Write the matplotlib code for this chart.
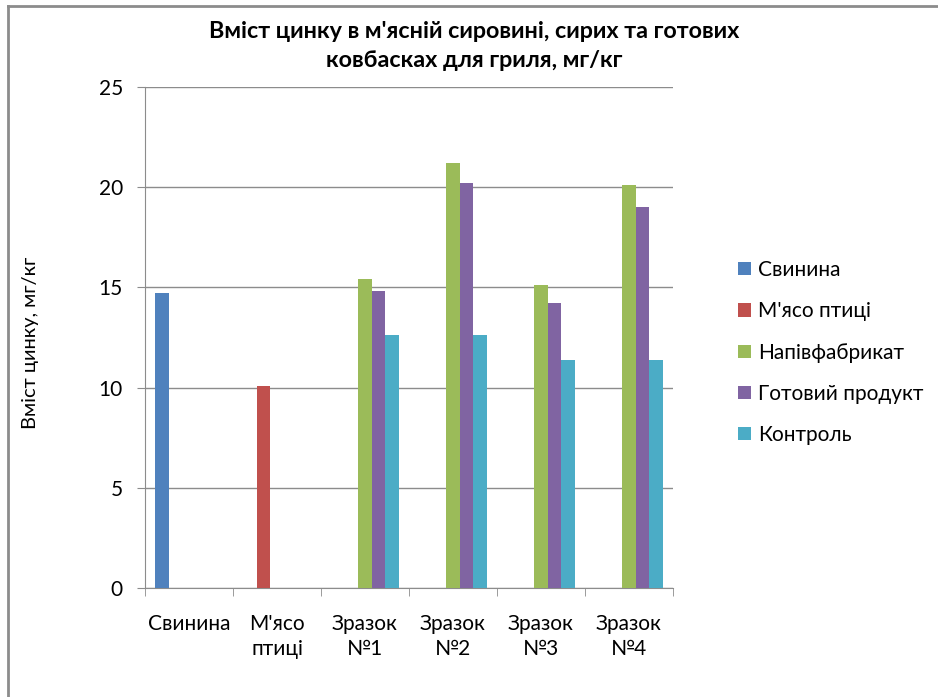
import numpy as np
import matplotlib
matplotlib.use("Agg")
import matplotlib.pyplot as plt
from matplotlib.lines import Line2D

plt.rcParams["font.family"] = ["Lato", "DejaVu Sans"]

CATEGORIES = ["Свинина", "М'ясо\nптиці", "Зразок\n№1", "Зразок\n№2", "Зразок\n№3", "Зразок\n№4"]
SERIES = ["Свинина", "М'ясо птиці", "Напівфабрикат", "Готовий продукт", "Контроль"]
svynyna = [14.7, np.nan, np.nan, np.nan, np.nan, np.nan]
ptytsia = [np.nan, 10.1, np.nan, np.nan, np.nan, np.nan]
napivfabrykat = [np.nan, np.nan, 15.4, 21.2, 15.1, 20.1]
hotovyi = [np.nan, np.nan, 14.8, 20.2, 14.2, 19.0]
kontrol = [np.nan, np.nan, 12.6, 12.6, 11.4, 11.4]
COLORS = ["#4F81BD", "#C0504D", "#9BBB59", "#8064A2", "#4BACC6"]

fig = plt.figure(figsize=(9.38, 6.97), dpi=100)
ax = fig.add_axes([0.1546, 0.1564, 0.5629, 0.7188])

x = np.arange(len(CATEGORIES))
w = 1 / 6.5
for i, (vals, name) in enumerate(zip([svynyna, ptytsia, napivfabrykat, hotovyi, kontrol], SERIES)):
    ax.bar(x - 0.5 + w * (1.25 + i), vals, width=w, color=COLORS[i], label=name, zorder=3)

ax.set_xlim(-0.5, len(CATEGORIES) - 0.5)
ax.set_ylim(0, 25)
ax.set_yticks(range(0, 26, 5))
ax.grid(axis="y", color="#8c8c8c", linewidth=1, zorder=0)
for s in ("top", "right"):
    ax.spines[s].set_visible(False)
for s in ("left", "bottom"):
    ax.spines[s].set_color("#8c8c8c")
ax.tick_params(axis="y", colors="#8c8c8c", length=6, labelcolor="black", labelsize=15, pad=10)
ax.set_xticks(x)
ax.set_xticklabels(CATEGORIES, fontsize=15, linespacing=1.3)
ax.tick_params(axis="x", length=0, pad=19)
ax.set_xticks(np.arange(-0.5, len(CATEGORIES)), minor=True)
ax.tick_params(axis="x", which="minor", length=6, color="#8c8c8c")

ax.set_ylabel("Вміст цинку, мг/кг", fontsize=14.5)
ax.yaxis.set_label_coords(-0.2, 0.49)

fig.text(0.506, 0.97, "Вміст цинку в м'ясній сировині, сирих та готових\nковбасках для гриля, мг/кг",
         ha="center", va="top", fontsize=16.8, fontweight="bold", linespacing=1.5)

leg = fig.legend(loc="center left", bbox_to_anchor=(0.767, 0.494), frameon=False, fontsize=15,
                 handlelength=0.6, handleheight=0.6, handletextpad=0.35, labelspacing=1.02)

fig.add_artist(Line2D([0.009, 1.0], [0.992, 0.992], color="#8c8c8c", linewidth=2))
fig.add_artist(Line2D([0.009, 0.009], [0.0, 0.992], color="#8c8c8c", linewidth=2))

fig.savefig("out.png", dpi=100)
